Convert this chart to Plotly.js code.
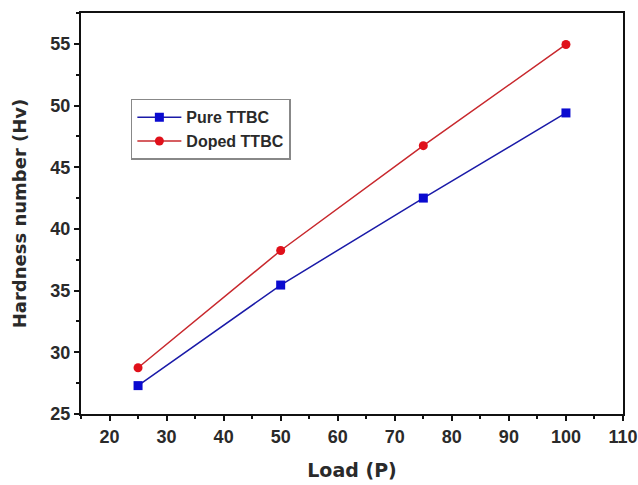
<!DOCTYPE html>
<html>
<head>
<meta charset="utf-8">
<script src="https://cdn.plot.ly/plotly-3.0.1.min.js"></script>
<style>html,body{margin:0;padding:0;background:#fff;}#chart{width:638px;height:485px;}</style>
</head>
<body>
<div id="chart"></div>
<script>
var loads = [25, 50, 75, 100];
var pureTTBC = [27.3, 35.45, 42.5, 49.4];
var dopedTTBC = [28.75, 38.25, 46.75, 54.95];
var seriesNames = ["Pure TTBC", "Doped TTBC"];

var traces = [
  {x: loads, y: pureTTBC, name: seriesNames[0], type: "scatter", mode: "lines+markers",
   line: {color: "#1a1aa8", width: 1.5}, marker: {symbol: "square", size: 9, color: "#0a0ad0"}},
  {x: loads, y: dopedTTBC, name: seriesNames[1], type: "scatter", mode: "lines+markers",
   line: {color: "#c8282d", width: 1.5}, marker: {symbol: "circle", size: 9, color: "#e0101a"}}
];

var tickFont = {family: "Liberation Sans, Arial, sans-serif", size: 18, color: "#2a2a2a", weight: "bold"};
var titleFont = {family: "DejaVu Sans, sans-serif", size: 18, color: "#2a2a2a", weight: "bold"};

var axisCommon = {
  showgrid: false, zeroline: false, showline: true, linecolor: "#111", linewidth: 2,
  mirror: true, ticks: "outside", ticklen: 5, tickwidth: 2, tickcolor: "#111",
  tickfont: tickFont,
  minor: {ticks: "outside", ticklen: 3, tickwidth: 2, tickcolor: "#111"}
};

var layout = {
  width: 638, height: 485,
  margin: {l: 81, r: 15, t: 13, b: 71},
  paper_bgcolor: "#fff", plot_bgcolor: "#fff",
  showlegend: true,
  legend: {x: 0.092, y: 0.786, xanchor: "left", yanchor: "top",
    bgcolor: "#fff", bordercolor: "#888", borderwidth: 1.5,
    font: {family: "Liberation Sans, Arial, sans-serif", size: 16, color: "#2a2a2a", weight: "bold"},
    tracegroupgap: 0, itemwidth: 44},
  xaxis: Object.assign({}, axisCommon, {
    range: [15, 110], tick0: 20, dtick: 10, minor: Object.assign({}, axisCommon.minor, {dtick: 5, tick0: 15}),
    title: {text: "Load (P)", standoff: 18, font: Object.assign({}, titleFont, {size: 19})}
  }),
  yaxis: Object.assign({}, axisCommon, {
    range: [25, 57.5], tick0: 25, dtick: 5, minor: Object.assign({}, axisCommon.minor, {dtick: 2.5, tick0: 25}),
    title: {text: "Hardness number (Hv)", standoff: 19, font: titleFont}
  })
};

Plotly.newPlot("chart", traces, layout, {displayModeBar: false, staticPlot: true});
</script>
</body>
</html>
